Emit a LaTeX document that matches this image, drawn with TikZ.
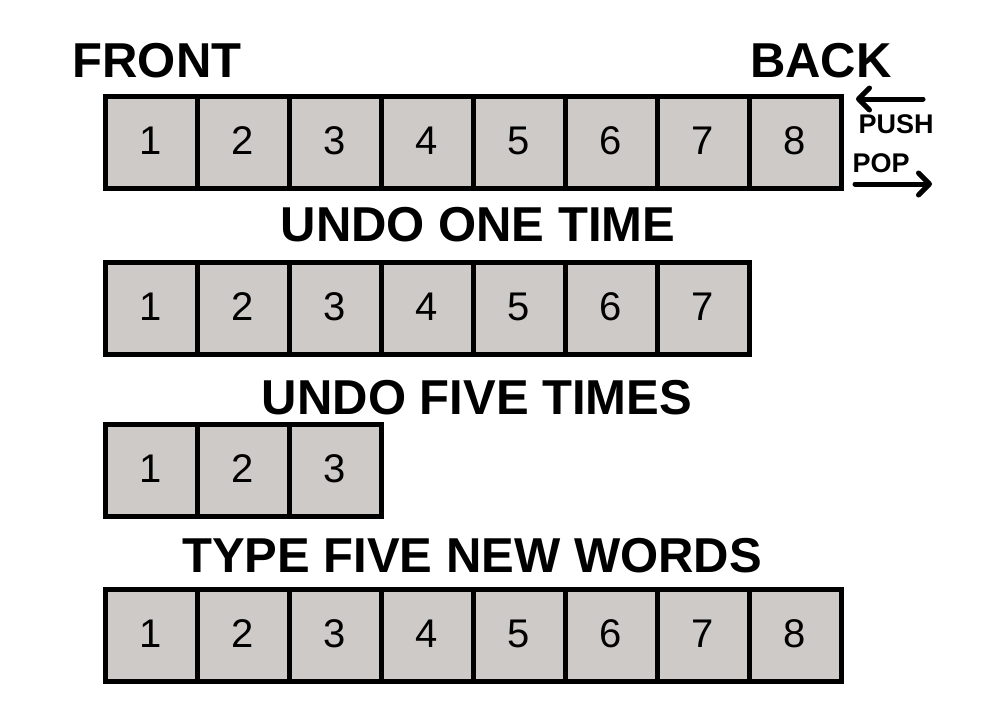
\documentclass[tikz,border=0pt]{standalone}
\usepackage{fontspec}
\setmainfont{Liberation Sans}
\usetikzlibrary{arrows.meta}
\definecolor{cellgray}{RGB}{205,202,199}

\begin{document}
\begin{tikzpicture}[x=1pt,y=-1pt,
    cell/.style={draw=black,fill=cellgray,line width=5pt,minimum width=92pt,minimum height=92pt,inner sep=0pt,text height=29pt,text depth=5pt,font=\fontsize{40}{40}\selectfont},
    title/.style={anchor=base,inner sep=0pt,font=\fontsize{49}{49}\selectfont\bfseries},
    optext/.style={anchor=base,inner sep=0pt,font=\fontsize{27}{27}\selectfont\bfseries},
    oparrow/.style={line width=5pt,line cap=round,-{Straight Barb[length=11pt,width=22pt,round]}}]

  %% Fix the page size
  \useasboundingbox (0,0) rectangle (1000,723);

  %% Rows of the stack: name / centre line / number of cells
  \foreach \row/\y/\n in {a/142/8,b/308/7,c/470/3,d/635/8}{
    \foreach \i in {1,...,\n}{
      \node[cell] (\row-\i) at (59+92*\i,\y) {\i};
    }
  }

  %% Titles above the rows
  \node[title] (front) at (157,77) {FRONT};
  \node[title] (back) at (821,77) {BACK};
  \node[title] (undoone) at (478,241) {UNDO ONE TIME};
  \node[title] (undofive) at (477,414) {UNDO FIVE TIMES};
  \node[title] (typefive) at (472,572) {TYPE FIVE NEW WORDS};

  %% Push and pop at the back
  \node[optext] (push) at (896,133) {PUSH};
  \node[optext] (pop) at (881,172) {POP};
  \coordinate (pushtail) at (923,99);
  \coordinate (pushtip) at (856,99);
  \coordinate (poptail) at (855,184);
  \coordinate (poptip) at (932,184);
  \draw[oparrow] (pushtail) -- (pushtip);
  \draw[oparrow] (poptail) -- (poptip);

\end{tikzpicture}
\end{document}
